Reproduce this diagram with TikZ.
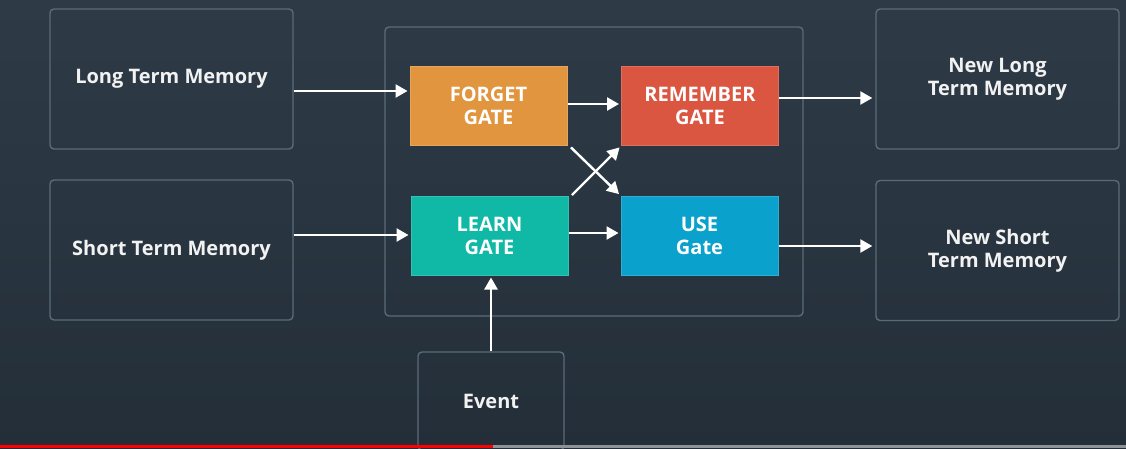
\documentclass[tikz,border=0pt]{standalone}
\usepackage{fontspec}
\setmainfont{Open Sans}
\usetikzlibrary{arrows.meta}

\definecolor{bgtop}{HTML}{2E3B47}
\definecolor{bgbot}{HTML}{232E38}
\definecolor{frame}{HTML}{5B6B79}
\definecolor{forgetc}{HTML}{E0953E}
\definecolor{rememberc}{HTML}{DA5640}
\definecolor{learnc}{HTML}{10B9A6}
\definecolor{usec}{HTML}{0AA1CD}
\definecolor{txt}{HTML}{F2F2F2}
\definecolor{barred}{HTML}{FF0000}
\definecolor{bargrey}{HTML}{8E9396}

\tikzset{
  membox/.style={draw=frame, line width=1.4pt, rounded corners=4pt,
    minimum width=243pt, minimum height=140pt, align=center,
    text=txt, font=\bfseries\fontsize{20}{23}\selectfont},
  gatebox/.style={draw=#1!85!white, fill=#1, line width=1pt,
    minimum width=157pt, minimum height=79pt, align=center,
    text=white, font=\bfseries\fontsize{20}{23}\selectfont},
  flow/.style={draw=white, line width=2.4pt,
    -{Triangle[length=12pt,width=13pt]}, shorten >=2pt}
}

\begin{document}
\begin{tikzpicture}[x=1pt,y=-1pt]
  \useasboundingbox (0,0) rectangle (1126,448);
  \clip (0,0) rectangle (1126,448);
  \shade[top color=bgtop, bottom color=bgbot] (0,0) rectangle (1126,448);

  % container around the four gates
  \node[draw=frame, line width=1.4pt, rounded corners=4pt,
        minimum width=418pt, minimum height=289pt] (cell) at (594,171.5) {};

  % inputs and outputs
  \node[membox] (ltm) at (171.5,79) {Long Term Memory};
  \node[membox] (stm) at (171.5,250) {Short Term Memory};
  \node[membox] (nltm) at (997.5,79) {New Long\\Term Memory};
  \node[membox] (nstm) at (997.5,250.5) {New Short\\Term Memory};
  \node[membox, minimum width=146pt, minimum height=98pt] (event) at (491,401) {Event};

  % gates
  \node[gatebox=forgetc] (forget) at (488.5,106) {FORGET\\GATE};
  \node[gatebox=rememberc] (remember) at (700,106) {REMEMBER\\GATE};
  \node[gatebox=learnc] (learn) at (489.5,235.5) {LEARN\\GATE};
  \node[gatebox=usec] (use) at (699.5,235.5) {USE\\Gate};

  % connectors
  \draw[flow] (ltm.east |- 0,91) -- (forget.west |- 0,91);
  \draw[flow] (stm.east |- 0,235) -- (learn.west |- 0,235);
  \draw[flow] (forget.east |- 0,104) -- (remember.west |- 0,104);
  \draw[flow] (learn.east |- 0,233) -- (use.west |- 0,233);
  \draw[flow, shorten <=2pt] ([xshift=2pt]forget.south east) -- (use.north west);
  \draw[flow, shorten <=2pt] ([xshift=2pt,yshift=-1pt]learn.north east) -- (remember.south west);
  \draw[flow, shorten >=3pt] (remember.east |- 0,98) -- (nltm.west |- 0,98);
  \draw[flow, shorten >=3pt] (use.east |- 0,246) -- (nstm.west |- 0,246);
  \draw[flow] (event.north) -- (event.north |- learn.south);

  % playback progress bar
  \fill[bargrey] (493,445) rectangle (1126,448);
  \fill[barred] (0,445) rectangle (493,448);
\end{tikzpicture}
\end{document}
